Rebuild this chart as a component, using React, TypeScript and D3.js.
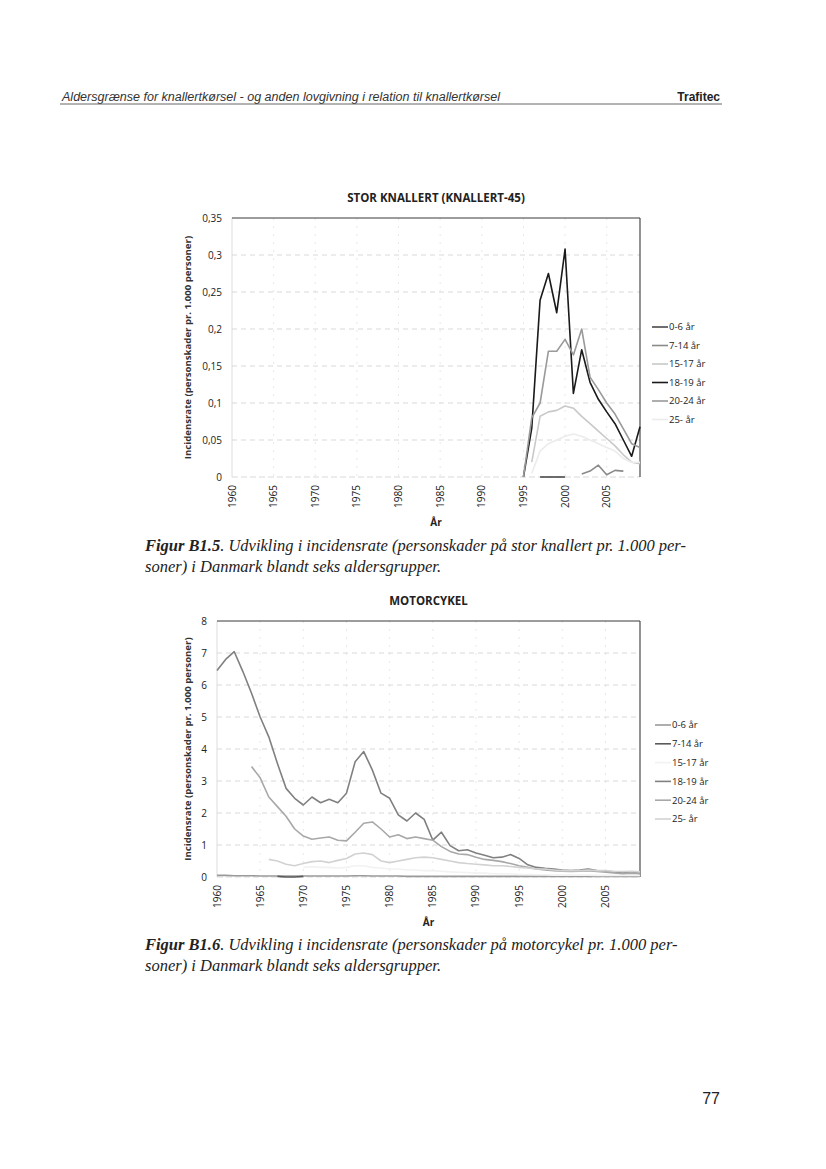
import * as d3 from "d3";

// categories on both x axes
const allYears = [
  1960, 1961, 1962, 1963, 1964, 1965, 1966, 1967, 1968, 1969,
  1970, 1971, 1972, 1973, 1974, 1975, 1976, 1977, 1978, 1979,
  1980, 1981, 1982, 1983, 1984, 1985, 1986, 1987, 1988, 1989,
  1990, 1991, 1992, 1993, 1994, 1995, 1996, 1997, 1998, 1999,
  2000, 2001, 2002, 2003, 2004, 2005, 2006, 2007, 2008, 2009,
];
const labelYears = [1960, 1965, 1970, 1975, 1980, 1985, 1990, 1995, 2000, 2005];
const ageGroups = ["0-6 år", "7-14 år", "15-17 år", "18-19 år", "20-24 år", "25- år"];

// Stor knallert (knallert-45), 1995-2009
const knallertYears = [1995, 1996, 1997, 1998, 1999, 2000, 2001, 2002, 2003, 2004, 2005, 2006, 2007, 2008, 2009];
const kn06 = [null, null, 0, 0, 0, 0, null, null, null, null, null, null, null, null, null];
const kn714 = [null, null, null, null, null, null, null, 0.004, 0.008, 0.016, 0.003, 0.009, 0.008, null, null];
const kn1517 = [null, 0.02, 0.082, 0.088, 0.09, 0.096, 0.093, 0.082, 0.072, 0.062, 0.052, 0.042, 0.03, 0.02, 0.018];
const kn1819 = [0, 0.066, 0.239, 0.275, 0.222, 0.308, 0.113, 0.172, 0.128, 0.105, 0.088, 0.072, 0.05, 0.028, 0.068];
const kn2024 = [0, 0.08, 0.1, 0.17, 0.17, 0.186, 0.165, 0.2, 0.135, 0.118, 0.1, 0.085, 0.065, 0.045, 0.04];
const kn25 = [null, 0.005, 0.035, 0.045, 0.05, 0.055, 0.058, 0.055, 0.05, 0.045, 0.04, 0.035, 0.025, 0.02, 0.02];
const knallertTicks = [0, 0.05, 0.1, 0.15, 0.2, 0.25, 0.3, 0.35];

// Motorcykel, 1960-2009
const mc06 = [
  0.05, 0.05, 0.04, 0.04, 0.04, 0.03, 0.03, 0.03, 0.03, 0.03,
  0.03, 0.03, 0.03, 0.03, 0.03, 0.03, 0.04, 0.04, 0.03, 0.03,
  0.03, 0.03, 0.02, 0.02, 0.02, 0.02, 0.02, 0.02, 0.02, 0.02,
  0.02, 0.02, 0.02, 0.02, 0.02, 0.02, 0.02, 0.02, 0.02, 0.02,
  0.02, 0.02, 0.02, 0.02, 0.02, 0.02, 0.02, 0.02, 0.02, 0.02,
];
const mc714 = [
  null, null, null, null, null, null, null, 0.02, 0, 0,
  0.02, null, null, null, null, null, null, null, null, null,
  null, null, null, null, null, null, null, null, null, null,
  null, null, null, null, null, null, null, null, null, null,
  null, null, null, null, null, null, null, null, null, null,
];
const mc1517 = [
  null, null, null, null, null, null, null, null, null, null,
  0.3, 0.32, 0.3, 0.3, 0.28, 0.3, 0.35, 0.35, 0.3, 0.28,
  0.25, 0.25, 0.22, 0.22, 0.2, 0.2, 0.18, 0.16, 0.15, 0.14,
  0.12, 0.12, 0.1, 0.1, 0.1, 0.08, 0.08, 0.07, 0.07, 0.06,
  0.06, 0.06, 0.06, 0.06, 0.05, 0.05, 0.05, 0.05, 0.05, 0.05,
];
const mc1819 = [
  6.45, 6.8, 7.04, 6.42, 5.74, 5.0, 4.38, 3.55, 2.77, 2.46,
  2.25, 2.5, 2.32, 2.43, 2.32, 2.62, 3.6, 3.92, 3.34, 2.62,
  2.46, 1.94, 1.75, 2.0, 1.8, 1.15, 1.4, 0.98, 0.82, 0.85,
  0.75, 0.68, 0.6, 0.62, 0.7, 0.58, 0.38, 0.3, 0.27, 0.25,
  0.22, 0.2, 0.22, 0.25, 0.2, 0.18, 0.15, 0.12, 0.15, 0.12,
];
const mc2024 = [
  null, null, null, null, 3.45, 3.1, 2.5, 2.2, 1.9, 1.5,
  1.28, 1.18, 1.22, 1.25, 1.15, 1.13, 1.4, 1.68, 1.72, 1.5,
  1.25, 1.32, 1.2, 1.25, 1.2, 1.15, 0.95, 0.8, 0.72, 0.7,
  0.62, 0.55, 0.52, 0.48, 0.42, 0.35, 0.3, 0.25, 0.22, 0.2,
  0.18, 0.17, 0.18, 0.2, 0.17, 0.15, 0.13, 0.1, 0.12, 0.1,
];
const mc25 = [
  null, null, null, null, null, null, 0.55, 0.5, 0.4, 0.35,
  0.42, 0.48, 0.5, 0.45, 0.52, 0.58, 0.72, 0.75, 0.7, 0.5,
  0.45, 0.5, 0.55, 0.6, 0.62, 0.6, 0.55, 0.5, 0.45, 0.42,
  0.4, 0.38, 0.35, 0.35, 0.33, 0.3, 0.28, 0.25, 0.25, 0.22,
  0.2, 0.2, 0.2, 0.22, 0.2, 0.2, 0.18, 0.17, 0.18, 0.16,
];
const mcTicks = [0, 1, 2, 3, 4, 5, 6, 7, 8];

const knallertColors = ["#4a4a4a", "#8a8a8a", "#c9c9c9", "#1a1a1a", "#9a9a9a", "#ececec"];
const mcColors = ["#9a9a9a", "#5a5a5a", "#f2f2f2", "#808080", "#a8a8a8", "#d2d2d2"];

const chartFont = "'Open Sans', 'Liberation Sans', sans-serif";
const yLabel = "Incidensrate (personskader pr. 1.000 personer)";

type Props = {
  title: string;
  titleY: number;
  left: number;
  right: number;
  top: number;
  bottom: number;
  yMax: number;
  ticks: number[];
  seriesYears: number[];
  series: (number | null)[][];
  colors: string[];
  legendX: number;
  legendY: number;
  legendStep: number;
  yLabelX: number;
};

function LineChart(p: Props) {
  const x = d3.scalePoint<number>().domain(allYears).range([p.left, p.right]);
  const y = d3.scaleLinear().domain([0, p.yMax]).range([p.bottom, p.top]);
  const fmt = (v: number) => String(v).replace(".", ",");
  const line = d3
    .line<[number, number | null]>()
    .defined((d) => d[1] !== null)
    .x((d) => x(d[0]) as number)
    .y((d) => y(d[1] as number));

  return (
    <g fontFamily={chartFont}>
      <text x={(p.left + p.right) / 2} y={p.titleY} textAnchor="middle" fontSize={11.5} fontWeight={700} fill="#222">
        {p.title}
      </text>

      {/* horizontal grid */}
      {p.ticks.slice(1, -1).map((t) => (
        <line key={"h" + t} x1={p.left} x2={p.right} y1={y(t)} y2={y(t)} stroke="#cfcfcf" strokeWidth={0.8} strokeDasharray="5,4" />
      ))}
      {/* vertical grid */}
      {labelYears.slice(1).map((yr) => (
        <line key={"v" + yr} x1={x(yr)} x2={x(yr)} y1={p.top} y2={p.bottom} stroke="#dedede" strokeWidth={0.7} strokeDasharray="2,6" />
      ))}

      {/* plot frame */}
      <line x1={p.left} x2={p.left} y1={p.top} y2={p.bottom} stroke="#d4d4d4" strokeWidth={0.8} />
      <line x1={p.left} x2={p.right} y1={p.bottom} y2={p.bottom} stroke="#cfcfcf" strokeWidth={0.8} strokeDasharray="6,3" />
      <line x1={p.left} x2={p.right} y1={p.top} y2={p.top} stroke="#3a3a3a" strokeWidth={1.1} />
      <line x1={p.right} x2={p.right} y1={p.top} y2={p.bottom} stroke="#3a3a3a" strokeWidth={1.1} />

      {/* series */}
      {p.series.map((vals, i) => (
        <path
          key={ageGroups[i]}
          d={line(p.seriesYears.map((yr, j) => [yr, vals[j]] as [number, number | null])) || ""}
          fill="none"
          stroke={p.colors[i]}
          strokeWidth={1.6}
          strokeLinejoin="round"
        />
      ))}

      {/* y ticks */}
      {p.ticks.map((t) => (
        <text key={"t" + t} x={p.left - 10} y={y(t)} dy="0.35em" textAnchor="end" fontSize={10} fill="#222">
          {fmt(t)}
        </text>
      ))}
      {/* x ticks */}
      {labelYears.map((yr) => (
        <text
          key={"x" + yr}
          transform={`translate(${x(yr)},${p.bottom + 8}) rotate(-90)`}
          textAnchor="end"
          dy="0.35em"
          fontSize={10}
          fill="#222"
        >
          {yr}
        </text>
      ))}
      <text x={(p.left + p.right) / 2} y={p.bottom + 49} textAnchor="middle" fontSize={10} fontWeight={700} fill="#222">
        År
      </text>
      <text
        transform={`translate(${p.yLabelX},${(p.top + p.bottom) / 2}) rotate(-90)`}
        textAnchor="middle"
        fontSize={9.6}
        fontWeight={700}
        fill="#333"
      >
        {yLabel}
      </text>

      {/* legend */}
      {ageGroups.map((g, i) => (
        <g key={"l" + g} transform={`translate(${p.legendX},${p.legendY + i * p.legendStep})`}>
          <line x1={0} x2={16} y1={0} y2={0} stroke={p.colors[i]} strokeWidth={1.6} />
          <text x={17} y={0} dy="0.35em" fontSize={9.5} fill="#222">
            {g}
          </text>
        </g>
      ))}
    </g>
  );
}

export default function App() {
  const serif = "'Liberation Serif', 'Times New Roman', serif";
  return (
    <div style={{ position: "absolute", left: 0, top: 0 }}>
      <svg width={826} height={1169} viewBox="0 0 826 1169" style={{ display: "block", background: "#fff" }}>
        {/* running header */}
        <text x={62} y={101} fontFamily="'Liberation Sans', Arial, sans-serif" fontStyle="italic" fontSize={12} fill="#333" textLength={438} lengthAdjust="spacingAndGlyphs">
          Aldersgrænse for knallertkørsel - og anden lovgivning i relation til knallertkørsel
        </text>
        <text x={720} y={101} textAnchor="end" fontFamily="'Liberation Sans', Arial, sans-serif" fontWeight={700} fontSize={12} fill="#222">
          Trafitec
        </text>
        <line x1={60} x2={722} y1={104} y2={104} stroke="#555" strokeWidth={0.9} />

        <LineChart
          title="STOR KNALLERT (KNALLERT-45)"
          titleY={202}
          left={232}
          right={640}
          top={218}
          bottom={477}
          yMax={0.35}
          ticks={knallertTicks}
          seriesYears={knallertYears}
          series={[kn06, kn714, kn1517, kn1819, kn2024, kn25]}
          colors={knallertColors}
          legendX={652}
          legendY={327}
          legendStep={18.5}
          yLabelX={191}
        />

        <text fontFamily={serif} fontSize={16.5} fontStyle="italic" fill="#222">
          <tspan x={145} y={551}>
            <tspan fontWeight={700}>Figur B1.5</tspan>. Udvikling i incidensrate (personskader på stor knallert pr. 1.000 per-
          </tspan>
          <tspan x={145} y={572}>soner) i Danmark blandt seks aldersgrupper.</tspan>
        </text>

        <LineChart
          title="MOTORCYKEL"
          titleY={605}
          left={217}
          right={640}
          top={621}
          bottom={877}
          yMax={8}
          ticks={mcTicks}
          seriesYears={allYears}
          series={[mc06, mc714, mc1517, mc1819, mc2024, mc25]}
          colors={mcColors}
          legendX={655}
          legendY={725}
          legendStep={18.8}
          yLabelX={191}
        />

        <text fontFamily={serif} fontSize={16.5} fontStyle="italic" fill="#222">
          <tspan x={145} y={950}>
            <tspan fontWeight={700}>Figur B1.6</tspan>. Udvikling i incidensrate (personskader på motorcykel pr. 1.000 per-
          </tspan>
          <tspan x={145} y={971}>soner) i Danmark blandt seks aldersgrupper.</tspan>
        </text>

        <text x={720} y={1104} textAnchor="end" fontFamily="'Liberation Sans', Arial, sans-serif" fontSize={16} fill="#222">
          77
        </text>
      </svg>
    </div>
  );
}
